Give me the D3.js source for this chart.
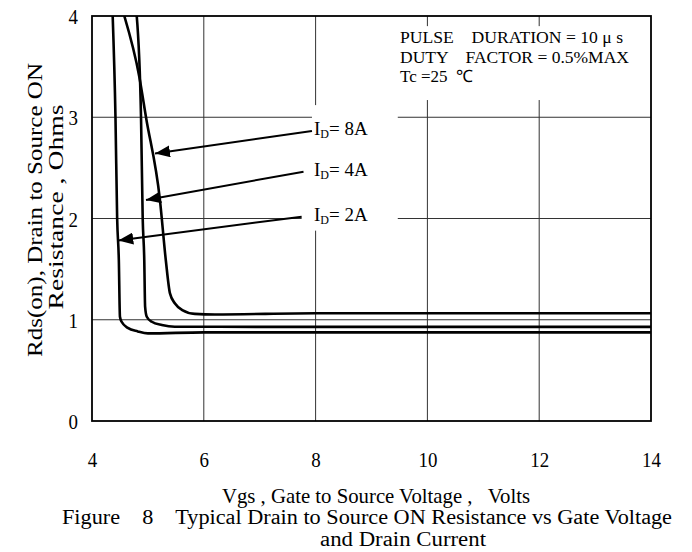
<!DOCTYPE html>
<html>
<head>
<meta charset="utf-8">
<script src="https://cdn.jsdelivr.net/npm/d3@7"></script>
<style>
  body { margin: 0; background: #fff; }
  text { font-family: "Liberation Serif", "Times New Roman", serif; fill: #000; }
</style>
</head>
<body>
<svg id="chart"></svg>
<script>
// tick values
var xTicks = [4, 6, 8, 10, 12, 14];
var yTicks = [0, 1, 2, 3, 4];

// Vgs (V) and Rds(on) (ohm) per drain current
var vgs2A = [4.37, 4.42, 4.45, 4.48, 4.50, 4.53, 4.64, 4.82, 5.0, 6.0, 14];
var rds2A = [4.0, 3.0, 2.0, 1.59, 1.03, 0.98, 0.92, 0.885, 0.865, 0.875, 0.875];
var vgs4A = [4.80, 4.877, 4.907, 4.935, 4.95, 4.98, 5.07, 5.25, 5.48, 7, 14];
var rds4A = [4.0, 3.0, 2.0, 1.59, 1.13, 1.03, 0.98, 0.948, 0.931, 0.93, 0.93];
var vgs8A = [4.578, 4.846, 4.966, 5.216, 5.32, 5.395, 5.485, 5.615, 5.84, 6.2, 8, 14];
var rds8A = [4.0, 3.40, 3.0, 2.18, 1.59, 1.26, 1.16, 1.096, 1.058, 1.052, 1.064, 1.064];

var seriesNames = ["8A", "4A", "2A"];
// arrow label anchor (tail) and tip on the curve, in data units
var arrowTail = [[7.935, 2.864], [7.784, 2.462], [7.751, 2.018]];
var arrowTip = [[5.127, 2.642], [4.966, 2.183], [4.470, 1.783]];

var notes = ["PULSE    DURATION = 10 \u03bc s", "DUTY    FACTOR = 0.5%MAX", "Tc =25  \u2103"];
var noteWidths = [223, 229, 73];

var margin = {top: 16, right: 41, bottom: 131, left: 92};
var width = 692 - margin.left - margin.right;
var height = 552 - margin.top - margin.bottom;
var squeeze = "scale(0.86,1)";

var root = d3.select("#chart").attr("width", 692).attr("height", 552);
var svg = root.append("g")
    .attr("transform", "translate(" + margin.left + "," + margin.top + ")");

var x = d3.scaleLinear().domain([4, 14]).range([0, width]);
var y = d3.scaleLinear().domain([0, 4]).range([height, 0]);

// grid
svg.append("g").selectAll("line")
  .data(xTicks.slice(1, -1)).enter().append("line")
  .attr("x1", d => x(d)).attr("x2", d => x(d))
  .attr("y1", 0).attr("y2", height)
  .attr("stroke", "#333").attr("stroke-width", 1);
svg.append("g").selectAll("line")
  .data(yTicks.slice(1, -1)).enter().append("line")
  .attr("x1", 0).attr("x2", width)
  .attr("y1", d => y(d)).attr("y2", d => y(d))
  .attr("stroke", "#333").attr("stroke-width", 1);

// white boxes behind the condition note and the current labels
svg.append("rect")
  .attr("x", x(9.47)).attr("y", y(3.9))
  .attr("width", x(13.95) - x(9.47)).attr("height", y(3.17) - y(3.9))
  .attr("fill", "#fff");
svg.append("rect")
  .attr("x", x(7.935)).attr("y", y(3.12))
  .attr("width", x(9.47) - x(7.935)).attr("height", y(2.55) - y(3.12))
  .attr("fill", "#fff");
svg.append("rect")
  .attr("x", x(7.75)).attr("y", y(2.55))
  .attr("width", x(9.47) - x(7.75)).attr("height", y(1.88) - y(2.55))
  .attr("fill", "#fff");

// axes (labels only)
var xAxis = d3.axisBottom(x).tickValues(xTicks).tickFormat(d3.format("d")).tickSize(0).tickPadding(0);
var yAxis = d3.axisLeft(y).tickValues(yTicks).tickFormat(d3.format("d")).tickSize(0).tickPadding(0);

var gx = svg.append("g").attr("transform", "translate(0," + height + ")").call(xAxis);
gx.select(".domain").remove();
gx.selectAll("text").attr("y", 0).attr("dy", 0)
  .attr("transform", "translate(0,46) " + squeeze)
  .style("font-size", "22px").style("font-family", "Liberation Serif");

var gy = svg.append("g").call(yAxis);
gy.select(".domain").remove();
gy.selectAll("text").attr("x", 0).attr("dy", "0.35em")
  .attr("transform", "translate(-14,0) " + squeeze)
  .style("font-size", "22px").style("font-family", "Liberation Serif");

// curves
var line = d3.line().x(d => x(d[0])).y(d => y(d[1])).curve(d3.curveMonotoneX);
var curves = [d3.zip(vgs8A, rds8A), d3.zip(vgs4A, rds4A), d3.zip(vgs2A, rds2A)];

svg.append("defs").append("clipPath").attr("id", "clip")
  .append("rect").attr("width", width).attr("height", height);

svg.append("g").attr("clip-path", "url(#clip)")
  .selectAll("path").data(curves).enter().append("path")
  .attr("d", line)
  .attr("fill", "none").attr("stroke", "#000").attr("stroke-width", 2.6)
  .attr("stroke-linejoin", "round");

// frame
svg.append("rect").attr("width", width).attr("height", height)
  .attr("fill", "none").attr("stroke", "#000").attr("stroke-width", 1.8);

// arrows
root.append("defs").append("marker")
  .attr("id", "head").attr("markerUnits", "userSpaceOnUse")
  .attr("markerWidth", 16).attr("markerHeight", 12)
  .attr("refX", 15).attr("refY", 6).attr("orient", "auto")
  .append("path").attr("d", "M0,0L15,6L0,12Z").attr("fill", "#000");

svg.selectAll("line.arrow").data(seriesNames).enter().append("line")
  .attr("class", "arrow")
  .attr("x1", (d, i) => x(arrowTail[i][0])).attr("y1", (d, i) => y(arrowTail[i][1]))
  .attr("x2", (d, i) => x(arrowTip[i][0])).attr("y2", (d, i) => y(arrowTip[i][1]))
  .attr("stroke", "#000").attr("stroke-width", 2)
  .attr("marker-end", "url(#head)");

var lab = svg.selectAll("text.lab").data(seriesNames).enter().append("text")
  .attr("class", "lab")
  .attr("x", x(7.97))
  .attr("y", (d, i) => y(arrowTail[i][1]) + 4)
  .style("font-size", "19px");
lab.append("tspan").text("I");
lab.append("tspan").text("D").style("font-size", "12px").attr("dy", 3);
lab.append("tspan").text("= ").attr("dy", -3);
lab.append("tspan").text(d => d);

// condition note
svg.selectAll("text.note").data(notes).enter().append("text")
  .attr("class", "note")
  .attr("x", x(9.51))
  .attr("y", (d, i) => 27 + i * 19.5)
  .attr("textLength", (d, i) => noteWidths[i]).attr("lengthAdjust", "spacingAndGlyphs")
  .style("font-size", "17px").style("white-space", "pre")
  .text(d => d);

// axis titles and caption
root.append("text")
  .attr("transform", "translate(42,210) rotate(-90)")
  .attr("text-anchor", "middle")
  .attr("textLength", 294).attr("lengthAdjust", "spacingAndGlyphs")
  .style("font-size", "22px")
  .text("Rds(on), Drain to Source ON");
root.append("text")
  .attr("transform", "translate(63,207) rotate(-90)")
  .attr("text-anchor", "middle")
  .attr("textLength", 205).attr("lengthAdjust", "spacingAndGlyphs")
  .style("font-size", "22px").style("white-space", "pre")
  .text("Resistance , Ohms");

root.append("text")
  .attr("x", 376).attr("y", 503)
  .attr("text-anchor", "middle")
  .attr("textLength", 308).attr("lengthAdjust", "spacingAndGlyphs")
  .style("font-size", "21px").style("white-space", "pre")
  .text("Vgs , Gate to Source Voltage ,   Volts");
root.append("text")
  .attr("x", 62).attr("y", 524)
  .attr("textLength", 610).attr("lengthAdjust", "spacingAndGlyphs")
  .style("font-size", "20px").style("white-space", "pre")
  .text("Figure    8    Typical Drain to Source ON Resistance vs Gate Voltage");
root.append("text")
  .attr("x", 403).attr("y", 546)
  .attr("text-anchor", "middle")
  .attr("textLength", 166).attr("lengthAdjust", "spacingAndGlyphs")
  .style("font-size", "20px")
  .text("and Drain Current");
</script>
</body>
</html>
